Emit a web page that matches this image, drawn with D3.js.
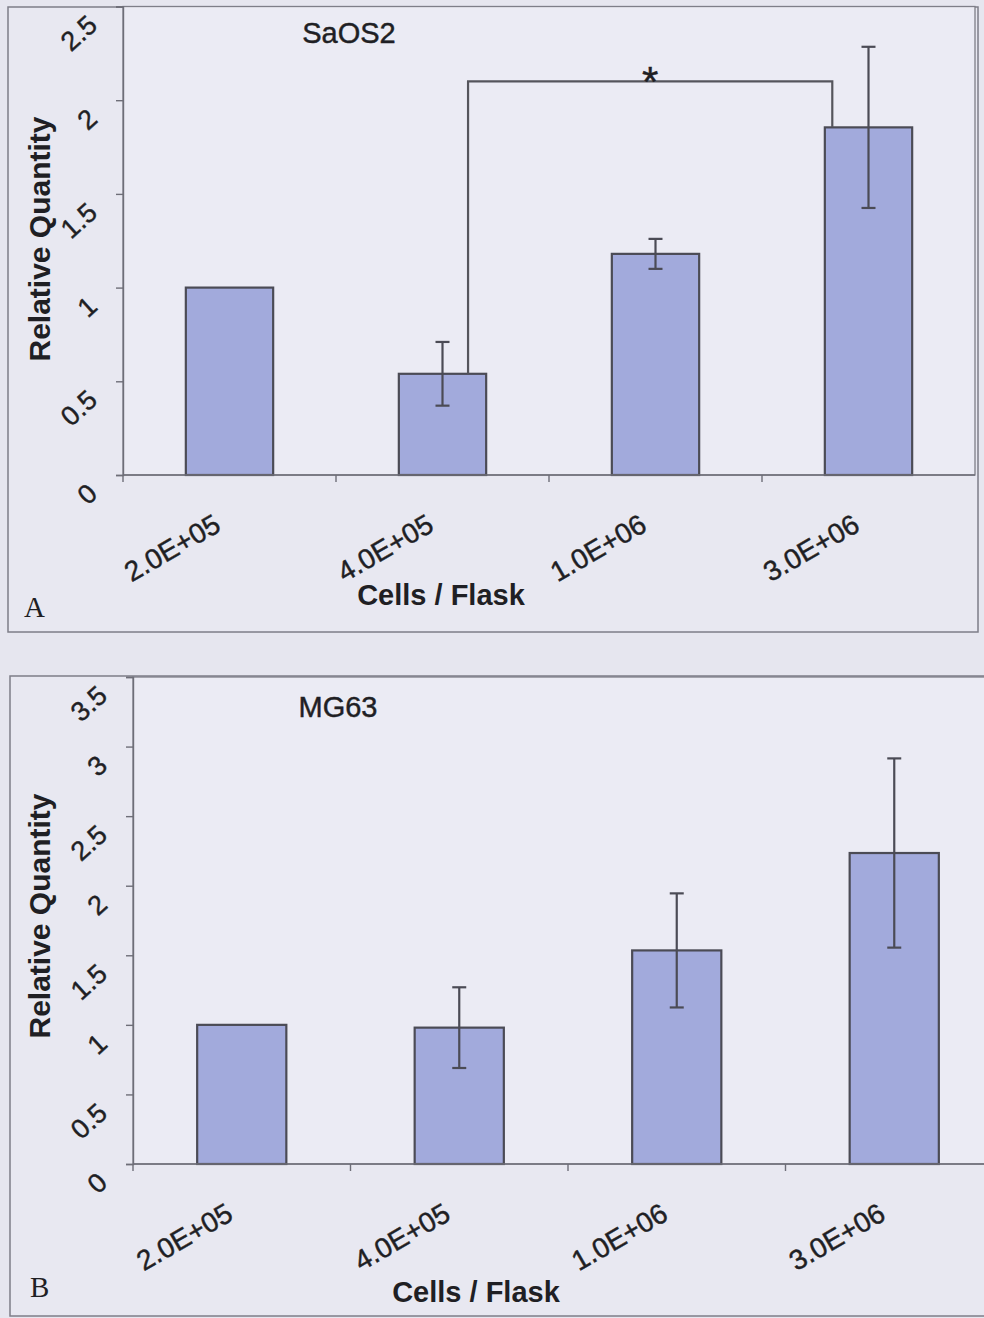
<!DOCTYPE html>
<html>
<head>
<meta charset="utf-8">
<script src="https://cdn.jsdelivr.net/npm/d3@7"></script>
<style>
  body { margin: 0; background: #e7e7f0; }
  svg { display: block; }
  text { font-family: "Liberation Sans", Arial, sans-serif; fill: #1f1f24; }
  .ylab, .xlab, .title, .star { stroke: #1f1f24; stroke-width: 0.45px; }
</style>
</head>
<body>
<div id="graphic"></div>
<script>
var categories = ["2.0E+05", "4.0E+05", "1.0E+06", "3.0E+06"]

var saos2Values = [1.0, 0.54, 1.18, 1.855]
var saos2Errors = [0, 0.17, 0.08, 0.43]
var saos2Ticks = [0, 0.5, 1, 1.5, 2, 2.5]
var saos2Bracket = 2.1

var mg63Values = [1.0, 0.98, 1.535, 2.235]
var mg63Errors = [0, 0.29, 0.41, 0.68]
var mg63Ticks = [0, 0.5, 1, 1.5, 2, 2.5, 3, 3.5]

var width = 984, height = 1318

var svg = d3.select("#graphic")
	.append("svg")
	.attr("width", width)
	.attr("height", height)

svg.append("rect")
	.attr("width", width).attr("height", height)
	.attr("fill", "#e6e6ef")

function drawPanel(opts){
	var g = svg.append("g")
	var f = opts.frame
	var p = opts.plot

	// outer frame of the chart
	g.append("rect")
		.attr("x", f.left).attr("y", f.top)
		.attr("width", f.right - f.left).attr("height", f.bottom - f.top)
		.attr("fill", "#e8e8f1")
		.attr("stroke", "#7e7e88")
		.attr("stroke-width", 1.5)

	var x = d3.scaleBand()
		.domain(opts.categories)
		.range([p.left, p.right])
		.padding(0)

	var y = d3.scaleLinear()
		.domain([0, d3.max(opts.ticks)])
		.range([p.bottom, p.top])

	// plot area
	g.append("rect")
		.attr("x", p.left).attr("y", p.top)
		.attr("width", p.right - p.left).attr("height", p.bottom - p.top)
		.attr("fill", "#ebebf4")
		.attr("stroke", "#7e7e88")
		.attr("stroke-width", 1.3)

	var data = opts.categories.map(function(c, i){
		return {cat: c, value: opts.values[i], err: opts.errors[i]}
	})

	var barW = x.bandwidth() * 0.41

	g.selectAll(".bar")
		.data(data)
		.enter()
		.append("rect")
		.attr("class", "bar")
		.attr("x", function(d){ return x(d.cat) + x.bandwidth() / 2 - barW / 2 })
		.attr("y", function(d){ return y(d.value) })
		.attr("width", barW)
		.attr("height", function(d){ return y(0) - y(d.value) })
		.attr("fill", "#a2aadc")
		.attr("stroke", "#4b4b55")
		.attr("stroke-width", 2.2)

	// error bars
	var errs = g.selectAll(".err")
		.data(data.filter(function(d){ return d.err > 0 }))
		.enter()
		.append("g")
		.attr("class", "err")
		.attr("stroke", "#4b4b55")
		.attr("stroke-width", 2.2)
	errs.append("line")
		.attr("x1", function(d){ return x(d.cat) + x.bandwidth() / 2 })
		.attr("x2", function(d){ return x(d.cat) + x.bandwidth() / 2 })
		.attr("y1", function(d){ return y(d.value + d.err) })
		.attr("y2", function(d){ return y(d.value - d.err) })
	errs.selectAll(".cap")
		.data(function(d){ return [d.value + d.err, d.value - d.err].map(function(v){ return {cat: d.cat, v: v} }) })
		.enter()
		.append("line")
		.attr("x1", function(d){ return x(d.cat) + x.bandwidth() / 2 - 7 })
		.attr("x2", function(d){ return x(d.cat) + x.bandwidth() / 2 + 7 })
		.attr("y1", function(d){ return y(d.v) })
		.attr("y2", function(d){ return y(d.v) })

	// y axis
	var yAxis = g.append("g")
		.attr("transform", "translate(" + p.left + ",0)")
		.call(d3.axisLeft(y).tickValues(opts.ticks).tickSize(7).tickFormat(""))
	yAxis.selectAll("path, line").attr("stroke", "#6e6e78").attr("stroke-width", 1.4)

	g.selectAll(".ylab")
		.data(opts.ticks)
		.enter()
		.append("text")
		.attr("class", "ylab")
		.attr("transform", function(d){ return "translate(" + (p.left - 24) + "," + (y(d) + 21) + ") rotate(-42)" })
		.attr("text-anchor", "end")
		.style("font-size", "27px")
		.text(function(d){ return d })

	// x axis
	var xAxis = g.append("g")
		.attr("transform", "translate(0," + p.bottom + ")")
	xAxis.append("line")
		.attr("x1", p.left).attr("x2", p.right)
		.attr("stroke", "#6e6e78").attr("stroke-width", 1.4)
	xAxis.selectAll(".xt")
		.data(opts.categories)
		.enter()
		.append("line")
		.attr("x1", function(d){ return x(d) }).attr("x2", function(d){ return x(d) })
		.attr("y1", 0).attr("y2", 7)
		.attr("stroke", "#6e6e78").attr("stroke-width", 1.4)

	g.selectAll(".xlab")
		.data(opts.categories)
		.enter()
		.append("text")
		.attr("class", "xlab")
		.attr("transform", function(d){ return "translate(" + (x(d) + x.bandwidth() / 2 - 7) + "," + (p.bottom + 55) + ") rotate(-30)" })
		.attr("text-anchor", "end")
		.style("font-size", "28px")
		.text(function(d){ return d })

	g.append("text")
		.attr("class", "title")
		.attr("x", opts.titleX).attr("y", opts.titleY)
		.attr("text-anchor", "middle")
		.style("font-size", "29px")
		.text(opts.title)

	g.append("text")
		.attr("transform", "translate(50," + opts.yLabelY + ") rotate(-90)")
		.attr("text-anchor", "middle")
		.style("font-size", "30px")
		.style("font-weight", "bold")
		.text("Relative Quantity")

	g.append("text")
		.attr("x", opts.xLabelX).attr("y", opts.xLabelY)
		.attr("text-anchor", "middle")
		.style("font-size", "29px")
		.style("font-weight", "bold")
		.text("Cells / Flask")

	g.append("text")
		.attr("x", opts.letterX).attr("y", opts.letterY)
		.style("font-family", "'Liberation Serif', 'Times New Roman', serif")
		.style("font-size", "29px")
		.text(opts.letter)

	return {x: x, y: y, g: g}
}

var panelA = drawPanel({
	frame: {left: 8, top: 7, right: 978, bottom: 632},
	plot: {left: 123, top: 6.5, right: 975, bottom: 475},
	categories: categories, values: saos2Values, errors: saos2Errors, ticks: saos2Ticks,
	title: "SaOS2", titleX: 349, titleY: 43,
	yLabelY: 239, xLabelX: 441, xLabelY: 605,
	letter: "A", letterX: 24, letterY: 617
})

// significance bracket between 4.0E+05 and 3.0E+06
var ax = panelA.x, ay = panelA.y, step = ax.bandwidth()
var bx1 = ax(categories[1]) + step * 0.62
var bx2 = ax(categories[3]) + step * 0.33
panelA.g.append("path")
	.attr("d", "M" + bx1 + "," + ay(saos2Values[1]) + "V" + ay(saos2Bracket) + "H" + bx2 + "V" + ay(saos2Values[3]))
	.attr("fill", "none")
	.attr("stroke", "#55555c")
	.attr("stroke-width", 2.2)
panelA.g.append("text")
	.attr("class", "star")
	.attr("x", (bx1 + bx2) / 2).attr("y", ay(saos2Bracket) + 15)
	.attr("text-anchor", "middle")
	.style("font-size", "42px")
	.text("*")

drawPanel({
	frame: {left: 10, top: 676, right: 1000, bottom: 1316},
	plot: {left: 133, top: 677, right: 1003, bottom: 1164},
	categories: categories, values: mg63Values, errors: mg63Errors, ticks: mg63Ticks,
	title: "MG63", titleX: 338, titleY: 717,
	yLabelY: 916, xLabelX: 476, xLabelY: 1302,
	letter: "B", letterX: 30, letterY: 1297
})
</script>
</body>
</html>
